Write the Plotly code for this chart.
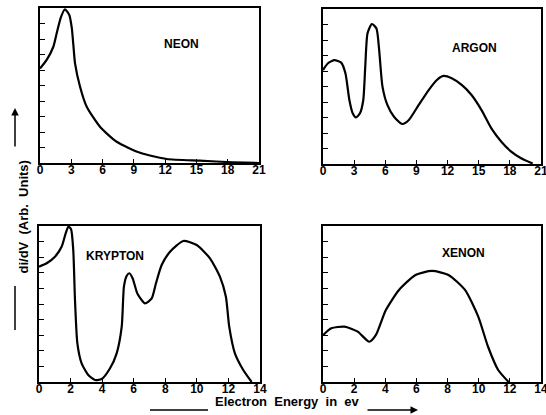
import plotly.graph_objects as go

# ---- data ----
neon_x = [0, 0.64, 1.28, 1.6, 2.0, 2.4, 2.81, 3.05, 3.2, 3.36, 3.84, 4.48, 5.75, 7.35, 9.6, 12.15, 15.3, 18.5, 21]
neon_y = [6.1, 6.65, 7.5, 8.37, 9.4, 9.92, 9.55, 8.7, 7.6, 6.43, 4.92, 3.63, 2.34, 1.37, 0.66, 0.26, 0.15, 0.05, 0.0]

argon_x = [0, 0.48, 1.1, 1.75, 2.16, 2.54, 2.86, 3.18, 3.56, 3.88, 4.07, 4.29, 4.71, 5.15, 5.41, 5.73, 6.2, 6.84,
           7.63, 8.27, 9.22, 10.18, 10.97, 11.61, 12.4, 13.36, 14.31, 15.27, 16.22, 17.18, 18.13, 19.08, 20.2]
argon_y = [6.06, 6.5, 6.7, 6.54, 5.85, 4.13, 3.27, 3.0, 3.27, 4.13, 6.28, 8.43, 9.03, 8.75, 7.35, 4.99, 3.81, 3.05,
           2.58, 2.84, 3.81, 4.77, 5.42, 5.68, 5.53, 5.1, 4.45, 3.48, 2.3, 1.44, 0.8, 0.37, 0.03]

krypton_x = [0, 0.49, 1.01, 1.44, 1.69, 1.86, 2.03, 2.17, 2.28, 2.43, 2.7, 3.12, 3.55, 3.97, 4.5, 4.92, 5.24,
             5.38, 5.55, 5.72, 5.93, 6.23, 6.71, 7.14, 7.41, 7.77, 8.3, 9.14, 9.99, 10.83, 11.46, 11.84, 12.05,
             12.41, 12.94, 13.47]
krypton_y = [7.39, 7.61, 8.03, 8.68, 9.53, 9.96, 9.79, 8.46, 5.26, 2.48, 1.2, 0.45, 0.13, 0.19, 0.88, 1.84, 3.55,
             6.11, 6.79, 6.97, 6.65, 5.68, 5.04, 5.36, 6.33, 7.5, 8.35, 9.04, 8.78, 7.93, 6.75, 5.47, 3.55,
             1.84, 0.77, 0.0]

xenon_x = [0, 0.53, 1.38, 2.23, 2.97, 3.39, 4.03, 4.88, 5.94, 7.0, 8.06, 9.12, 9.97, 10.6, 11.25, 11.92]
xenon_y = [3.0, 3.44, 3.55, 3.23, 2.58, 3.0, 4.6, 5.9, 6.86, 7.12, 6.86, 5.9, 4.19, 2.26, 0.77, 0.0]

top_ticks = [0, 3, 6, 9, 12, 15, 18, 21]
bottom_ticks = [0, 2, 4, 6, 8, 10, 12, 14]
y_ticks = [1, 2, 3, 4, 5, 6, 7, 8, 9]

labels = ["NEON", "ARGON", "KRYPTON", "XENON"]
label_pos = [(13.6, 7.7), (14.6, 7.5), (4.8, 8.1), (9.0, 8.3)]

FONT = "Liberation Sans"

fig = go.Figure()
series = [(neon_x, neon_y), (argon_x, argon_y), (krypton_x, krypton_y), (xenon_x, xenon_y)]
for i, (xs, ys) in enumerate(series):
    n = "" if i == 0 else str(i + 1)
    fig.add_trace(go.Scatter(x=xs, y=ys, mode="lines", xaxis="x" + n, yaxis="y" + n,
                             line=dict(color="black", width=2.2, shape="spline", smoothing=0.6),
                             showlegend=False, hoverinfo="skip", cliponaxis=False))

W, H = 546, 415
xdoms = [[40 / W, 259 / W], [323 / W, 541 / W], [39 / W, 260 / W], [323 / W, 541 / W]]
ydoms = [[(H - 163) / H, (H - 8) / H], [(H - 164) / H, (H - 9) / H],
         [(H - 382) / H, (H - 226) / H], [(H - 382) / H, (H - 226) / H]]
xranges = [[0, 21], [0, 21], [0, 14], [0, 14]]
xtick_sets = [top_ticks, top_ticks, bottom_ticks, bottom_ticks]

layout = dict(width=W, height=H, margin=dict(l=0, r=0, t=0, b=0, autoexpand=False),
              template="none",
              paper_bgcolor="white", plot_bgcolor="white", showlegend=False)
for i in range(4):
    n = "" if i == 0 else str(i + 1)
    layout["xaxis" + n] = dict(domain=xdoms[i], range=xranges[i], anchor="y" + n, automargin=False,
                               tickvals=xtick_sets[i], ticktext=[str(t) for t in xtick_sets[i]],
                               ticks="inside", ticklen=4, tickwidth=1.2, tickcolor="black",
                               showline=True, linecolor="black", linewidth=1.5, mirror=True,
                               showgrid=False, zeroline=False, ticklabelstandoff=-5,
                               ticklabeloverflow="allow",
                               tickfont=dict(family=FONT, size=12, color="black", weight="bold"))
    layout["yaxis" + n] = dict(domain=ydoms[i], range=[0, 10], anchor="x" + n, automargin=False,
                               tickvals=y_ticks, showticklabels=False,
                               ticks="inside", ticklen=5, tickwidth=1.2, tickcolor="black",
                               showline=True, linecolor="black", linewidth=1.5, mirror=True,
                               showgrid=False, zeroline=False)
fig.update_layout(**layout)

for i, (lab, (lx, ly)) in enumerate(zip(labels, label_pos)):
    n = "" if i == 0 else str(i + 1)
    fig.add_annotation(x=lx, y=ly, xref="x" + n, yref="y" + n, text=lab, showarrow=False,
                       font=dict(family=FONT, size=12, color="black", weight="bold"))

# y-axis title with leader line and arrow
fig.add_annotation(x=15 / W, y=(H - 217) / H, xref="paper", yref="paper",
                   text="di/dV  (Arb.  Units)", textangle=-90, showarrow=False, borderpad=0,
                   font=dict(family=FONT, size=13, color="black", weight="bold"))
fig.add_shape(type="line", xref="paper", yref="paper", x0=15 / W, x1=15 / W,
              y0=(H - 330) / H, y1=(H - 286) / H, line=dict(color="black", width=1.5))
fig.add_annotation(x=15 / W, y=(H - 108) / H, xref="paper", yref="paper", text="",
                   showarrow=True, ax=0, ay=40, arrowhead=2, arrowsize=1, arrowwidth=1.5,
                   arrowcolor="black")

# x-axis title with leader line and arrow
fig.add_annotation(x=287 / W, y=(H - 410) / H, xref="paper", yref="paper",
                   text="Electron  Energy  in  ev", showarrow=False, borderpad=0,
                   font=dict(family=FONT, size=13, color="black", weight="bold"))
fig.add_shape(type="line", xref="paper", yref="paper", x0=150 / W, x1=208 / W,
              y0=(H - 410) / H, y1=(H - 410) / H, line=dict(color="black", width=1.5))
fig.add_annotation(x=418 / W, y=(H - 410) / H, xref="paper", yref="paper", text="",
                   showarrow=True, ax=-52, ay=0, arrowhead=2, arrowsize=1, arrowwidth=1.5,
                   arrowcolor="black")

fig.write_html("out.html", config={"displayModeBar": False},
               post_script="document.body.style.margin='0';")
